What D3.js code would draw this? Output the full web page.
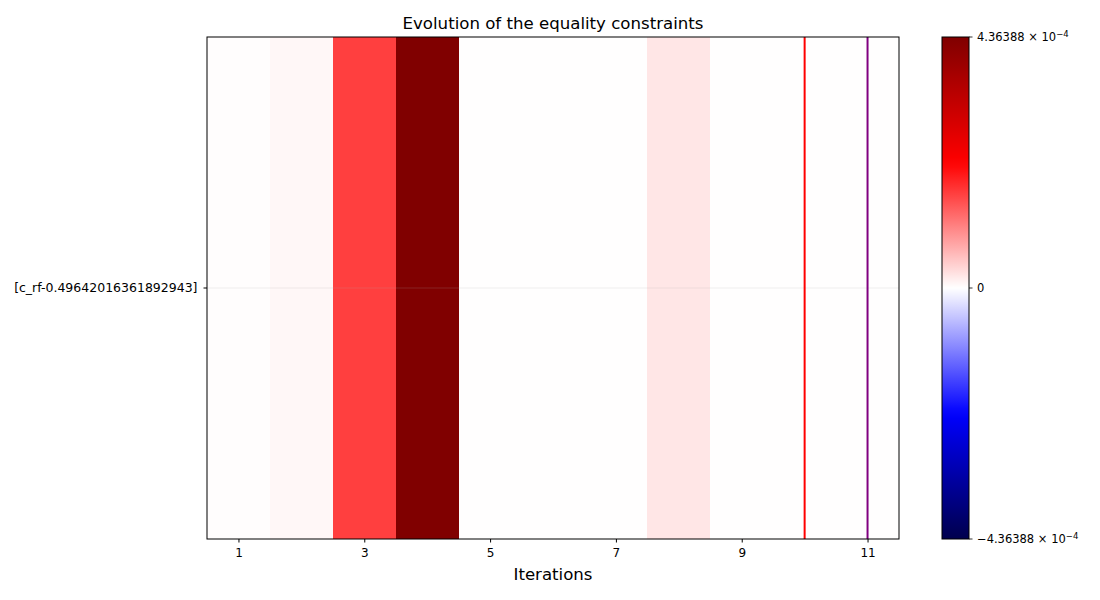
<!DOCTYPE html>
<html>
<head>
<meta charset="utf-8">
<script src="https://cdn.jsdelivr.net/npm/d3@7"></script>
<style>
  body { margin: 0; background: #fff; }
  text { font-family: "DejaVu Sans", sans-serif; fill: #000; }
</style>
</head>
<body>
<svg id="chart" width="1100" height="600"></svg>
<script>
// ---- data ----
const iterations = [1, 2, 3, 4, 5, 6, 7, 8, 9, 10, 11];
const constraintNames = ["[c_rf-0.49642016361892943]"];
const constraintValues = [1.5e-6, 7e-6, 1.64e-4, 4.36388e-4, 1e-6, 1e-6, 1e-6, 2.1e-5, 1e-6, 1e-6, 1e-6];
const xTickValues = [1, 3, 5, 7, 9, 11];
const vmax = 4.36388e-4;
const colorbarTicks = [-vmax, 0, vmax];
const markerIterations = [10, 11];
const markerColors = ["#ff0000", "#800080"];

// ---- layout ----
const svg = d3.select("#chart");
const L = 207, R = 899, T = 37, B = 539;
const cbL = 942, cbR = 969;

const x = d3.scaleLinear().domain([0.5, 11.5]).range([L, R]);
const y = d3.scaleBand().domain(constraintNames).range([T, B]);

const seismic = d3.scaleLinear()
  .domain([-vmax, -vmax / 2, 0, vmax / 2, vmax])
  .range(["#00004d", "#0000ff", "#ffffff", "#ff0000", "#800000"])
  .interpolate(d3.interpolateRgb)
  .clamp(true);

// cells
const cells = [];
constraintNames.forEach(name => {
  iterations.forEach((it, i) => cells.push({ name, it, v: constraintValues[i] }));
});
svg.append("g").selectAll("rect").data(cells).join("rect")
  .attr("x", d => x(d.it - 0.5))
  .attr("width", d => x(d.it + 0.5) - x(d.it - 0.5))
  .attr("y", d => y(d.name))
  .attr("height", y.bandwidth())
  .attr("fill", d => seismic(d.v))
  .attr("shape-rendering", "crispEdges");

// faint horizontal grid line
svg.append("g").selectAll("line").data(constraintNames).join("line")
  .attr("x1", L).attr("x2", R)
  .attr("y1", d => y(d) + y.bandwidth() / 2)
  .attr("y2", d => y(d) + y.bandwidth() / 2)
  .attr("stroke", "#b0b0b0").attr("stroke-opacity", 0.25).attr("stroke-width", 0.8);

// vertical marker lines
svg.append("g").selectAll("line").data(markerIterations).join("line")
  .attr("x1", d => x(d)).attr("x2", d => x(d))
  .attr("y1", T).attr("y2", B)
  .attr("stroke", (d, i) => markerColors[i]).attr("stroke-width", 2);

// frame
svg.append("rect").attr("x", L).attr("y", T).attr("width", R - L).attr("height", B - T)
  .attr("fill", "none").attr("stroke", "#000").attr("stroke-width", 1);

// x axis
const xAxis = d3.axisBottom(x).tickValues(xTickValues).tickSize(3.5).tickPadding(6).tickFormat(d3.format("d"));
const gx = svg.append("g").attr("transform", `translate(0,${B})`).call(xAxis);
gx.select(".domain").remove();
gx.selectAll("text").style("font-size", "12px").attr("font-family", "DejaVu Sans");

// y axis
const yAxis = d3.axisLeft(y).tickSize(3.5).tickPadding(6);
const gy = svg.append("g").attr("transform", `translate(${L},0)`).call(yAxis);
gy.select(".domain").remove();
gy.selectAll("text").style("font-size", "12.5px").attr("font-family", "DejaVu Sans");

// title & label
svg.append("text").attr("x", (L + R) / 2).attr("y", 29).attr("text-anchor", "middle")
  .style("font-size", "16.6px").text("Evolution of the equality constraints");
svg.append("text").attr("x", (L + R) / 2).attr("y", 580).attr("text-anchor", "middle")
  .style("font-size", "16.6px").text("Iterations");

// colorbar
const cy = d3.scaleLinear().domain([-vmax, vmax]).range([B, T]);
const defs = svg.append("defs");
const grad = defs.append("linearGradient").attr("id", "cbgrad")
  .attr("x1", 0).attr("y1", 1).attr("x2", 0).attr("y2", 0);
d3.range(0, 1.0001, 0.02).forEach(t => {
  grad.append("stop").attr("offset", t).attr("stop-color", seismic(-vmax + 2 * vmax * t));
});
svg.append("rect").attr("x", cbL).attr("y", T).attr("width", cbR - cbL).attr("height", B - T)
  .attr("fill", "url(#cbgrad)").attr("stroke", "#000").attr("stroke-width", 1);

const cbg = svg.append("g");
cbg.selectAll("line").data(colorbarTicks).join("line")
  .attr("x1", cbR).attr("x2", cbR + 3.5)
  .attr("y1", d => cy(d)).attr("y2", d => cy(d))
  .attr("stroke", "#000").attr("stroke-width", 0.8);
const lbl = cbg.selectAll("text").data(colorbarTicks).join("text")
  .attr("x", cbR + 8).attr("y", d => cy(d)).attr("dy", "0.35em")
  .style("font-size", "11.5px");
lbl.each(function(d) {
  const t = d3.select(this);
  if (d === 0) { t.text("0"); return; }
  const mant = Math.abs(d) / 1e-4;
  t.append("tspan").text((d < 0 ? "\u2212" : "") + mant.toFixed(5) + " \u00d7 10");
  t.append("tspan").attr("dy", "-0.45em").style("font-size", "8.5px").text("\u22124");
});
</script>
</body>
</html>
